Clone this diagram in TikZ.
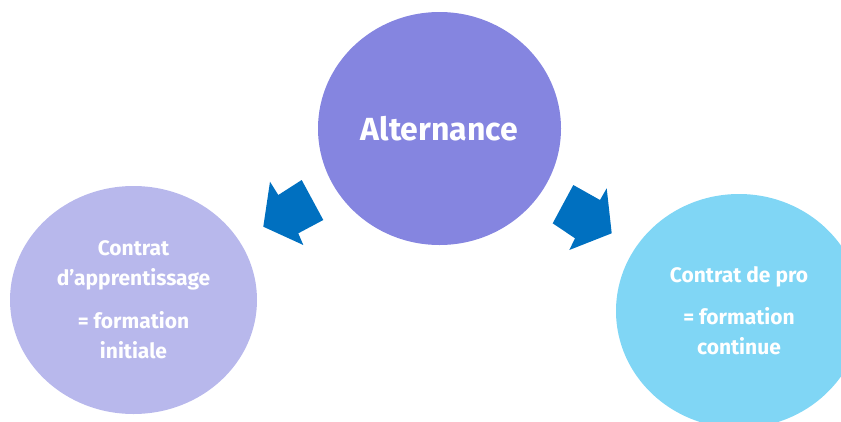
\documentclass[tikz,border=0pt]{standalone}
\usepackage{fontspec}
\setmainfont{Fira Sans}
\usepackage{tikz}
\usetikzlibrary{shapes.geometric}
\usepackage{xcolor}
\definecolor{mauve}{RGB}{133,133,224}
\definecolor{lilas}{RGB}{184,184,236}
\definecolor{ciel}{RGB}{128,214,245}
\definecolor{fleche}{RGB}{0,112,192}

\begin{document}
\begin{tikzpicture}[x=1pt,y=-1pt,
		bulle/.style={ellipse,inner sep=0pt,text=white,font=\bfseries,align=center}]
				\useasboundingbox (0,0) rectangle (841,421);
				\clip (0,0) rectangle (841,421);
				\node(alt) at (439.5,128.5)[bulle,fill=mauve,minimum width=243pt,minimum height=233pt,font=\bfseries\fontsize{32}{36}\selectfont]{Alternance};
				\node(app) at (133.5,300)[bulle,fill=lilas,minimum width=247pt,minimum height=228pt,font=\bfseries\fontsize{21}{30}\selectfont]{Contrat\\d’apprentissage\\[13pt]= formation\\initiale};
				\node(pro) at (739,311)[bulle,fill=ciel,minimum width=246pt,minimum height=234pt,font=\bfseries\fontsize{21}{30}\selectfont]{Contrat de pro\\[12pt]= formation\\continue};
				
				% fleches
				\fill[fleche] (263.3,226.7) -- (270,181.7) -- (278.3,195) -- (301.7,180) -- (323.3,220) -- (298.3,233.3) -- (303.3,245) -- cycle;
				\fill[fleche] (611.7,233.3) -- (606.7,188.3) -- (600,200) -- (573.3,185) -- (552.7,223.3) -- (575,238.3) -- (569.3,250) -- cycle;
			\end{tikzpicture}
\end{document}
